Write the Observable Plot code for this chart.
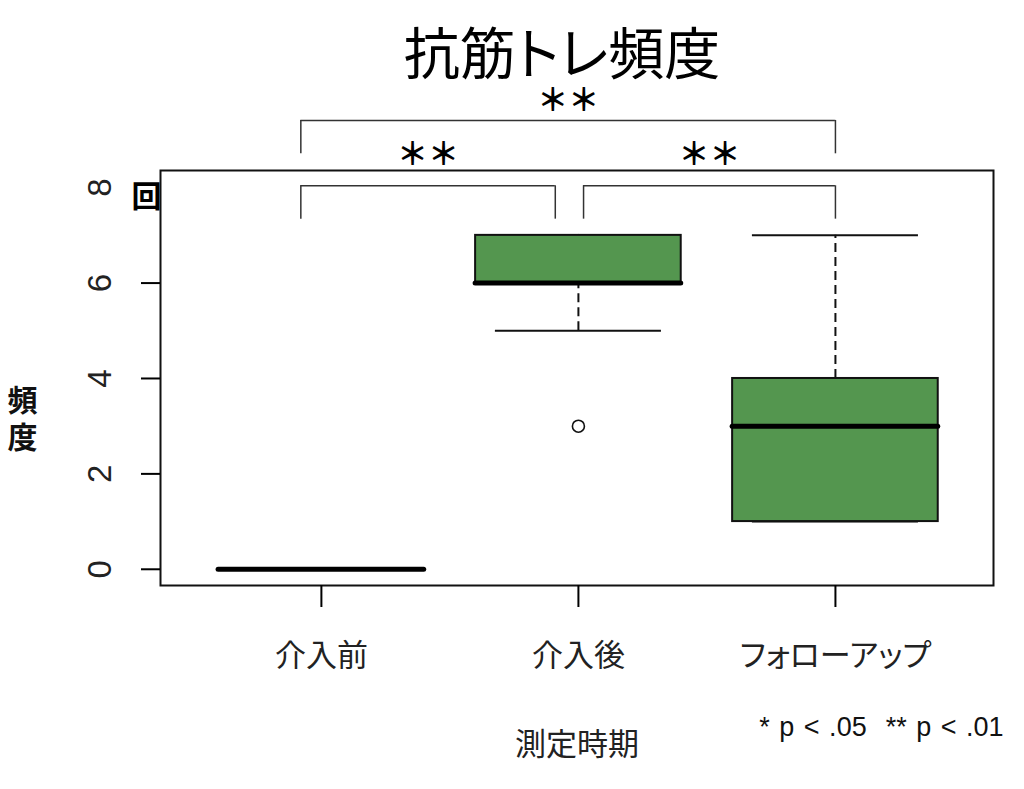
<!DOCTYPE html>
<html><head><meta charset="utf-8">
<script src="https://cdn.jsdelivr.net/npm/d3@7"></script>
<script src="https://cdn.jsdelivr.net/npm/@observablehq/plot@0.6"></script>
<style>
body{margin:0;background:#fff;}
svg{font-feature-settings:"palt";}
</style></head><body><div id="chart"></div>
<script>
// ---- data ----
const categories = ["介入前", "介入後", "フォローアップ"];
const mins    = [0, 5, 1];
const q1s     = [0, 6, 1];
const medians = [0, 6, 3];
const q3s     = [0, 7, 4];
const maxs    = [0, 7, 7];
const outlierGroups = [1];
const outlierValues = [3];
const yTicks = [0, 2, 4, 6, 8];
const comparisons = [
  {a: 0, b: 1, label: "**", level: 0},
  {a: 1, b: 2, label: "**", level: 0},
  {a: 0, b: 2, label: "**", level: 1}
];
const titleText = "抗筋トレ頻度";
const xTitle = "測定時期";
const yTitle = "頻度";
const unitText = "回";
const noteText = "* p < .05 \u00a0** p < .01";

// ---- derived ----
const groups = categories.map((c, i) => ({cat: c, i, min: mins[i], q1: q1s[i], median: medians[i], q3: q3s[i], max: maxs[i]}));
const outliers = outlierGroups.map((g, k) => ({i: g, value: outlierValues[k]}));
const half = 0.4, capHalf = 0.323;
const brackets = comparisons.map(c => {
  const x1 = c.a === 0 ? c.a - 0.08 : c.a + 0.02;
  const x2 = c.b === 1 ? c.b - 0.09 : c.b;
  const top = 8.04 + c.level * 1.37;
  return {x1, x2, top, leg: top - 0.7, label: c.label, ly: top + (c.level ? 0.44 : 0.676)};
});
const legs = brackets.flatMap(b => [{x: b.x1, y1: b.leg, y2: b.top}, {x: b.x2, y1: b.leg, y2: b.top}]);

const green = "#54964f";
const ink = "#111";
const cjk = "'Noto Sans CJK JP', sans-serif";
const latin = "'Liberation Sans', Arial, sans-serif";

const chart = Plot.plot({
  width: 1024, height: 789,
  marginLeft: 160, marginRight: 31, marginTop: 170, marginBottom: 204,
  x: {type: "linear", domain: [-0.626, 2.615]},
  y: {domain: [-0.34, 8.36]},
  style: {background: "white", overflow: "visible"},
  marks: [
    // whiskers
    Plot.ruleX(groups, {x: "i", y1: "q3", y2: "max", stroke: ink, strokeWidth: 2, strokeDasharray: "9,5"}),
    Plot.ruleX(groups, {x: "i", y1: "min", y2: "q1", stroke: ink, strokeWidth: 2, strokeDasharray: "9,5"}),
    Plot.ruleY(groups, {x1: d => d.i - capHalf, x2: d => d.i + capHalf, y: "max", stroke: ink, strokeWidth: 2}),
    Plot.ruleY(groups, {x1: d => d.i - capHalf, x2: d => d.i + capHalf, y: "min", stroke: ink, strokeWidth: 2}),
    // boxes
    Plot.rect(groups, {x1: d => d.i - half, x2: d => d.i + half, y1: "q1", y2: "q3", fill: green, stroke: ink, strokeWidth: 2}),
    Plot.ruleY(groups, {x1: d => d.i - half, x2: d => d.i + half, y: "median", stroke: "#000", strokeWidth: 5, strokeLinecap: "round"}),
    Plot.dot(outliers, {x: "i", y: "value", r: 6, stroke: ink, fill: "white", strokeWidth: 1.6}),
    Plot.frame({stroke: ink, strokeWidth: 2}),
    // axes
    Plot.axisY({ticks: yTicks.filter(v => v < 8), tickSize: 19, tickFormat: () => "", label: null, strokeWidth: 2}),
    Plot.text(yTicks, {y: d => d, text: d => String(d), frameAnchor: "left", dx: -60, rotate: -90, fontSize: 33, fontFamily: latin, textAnchor: "middle", lineAnchor: "middle", fill: "#222"}),
    Plot.axisX({ticks: categories.map((c, i) => i), tickSize: 22, tickFormat: () => "", label: null, strokeWidth: 2}),
    Plot.text(categories, {x: (d, i) => i, text: d => d, frameAnchor: "bottom", dy: 71, fontSize: 31, fontFamily: cjk, lineAnchor: "middle", fill: "#222"}),
    Plot.text([xTitle], {frameAnchor: "bottom", dy: 160, text: d => d, fontSize: 31, fontFamily: cjk, lineAnchor: "middle", fill: "#222"}),
    Plot.text([yTitle], {frameAnchor: "left", dx: -138, dy: 34, text: d => d, fontSize: 30, fontWeight: "bold", fontFamily: cjk, textAnchor: "middle", fill: "#111"}),
    Plot.text([unitText], {frameAnchor: "top-left", dx: -14, dy: 27, text: d => d, fontSize: 30, fontWeight: "bold", fontFamily: cjk, textAnchor: "middle", lineAnchor: "middle", fill: "#000"}),
    Plot.text([titleText], {frameAnchor: "top", dx: -15, dy: -114, text: d => d, fontSize: 56, fontFamily: cjk, lineAnchor: "middle", fill: "#000"}),
    Plot.text([noteText], {frameAnchor: "bottom-right", dx: 10, dy: 142, text: d => d, fontSize: 27, fontFamily: latin, textAnchor: "end", lineAnchor: "middle", fill: "#111"}),
    // significance brackets
    Plot.ruleY(brackets, {x1: "x1", x2: "x2", y: "top", stroke: "#333", strokeWidth: 1.5}),
    Plot.ruleX(legs, {x: "x", y1: "y1", y2: "y2", stroke: "#333", strokeWidth: 1.5}),
    Plot.text(brackets, {x: d => (d.x1 + d.x2) / 2, y: "ly", text: "label", fontSize: 31, fontFamily: cjk, lineAnchor: "middle", dy: 2, fill: "#000"})
  ]
});
const svg = d3.select(chart.tagName.toLowerCase() === "svg" ? chart : chart.querySelector("svg"));
svg.selectAll("text").each(function() {
  const t = d3.select(this);
  const s = this.textContent;
  if (s === "**") t.style("font-feature-settings", '"fwid"').style("font-weight", "700");
  if (s === yTitle) {
    t.attr("writing-mode", "vertical-rl").attr("dy", null).style("letter-spacing", "7px");
    t.selectAll("tspan").attr("dy", null);
  }
  if (s === noteText) t.style("word-spacing", "2px");
});
document.getElementById("chart").append(chart);
</script>
</body></html>
